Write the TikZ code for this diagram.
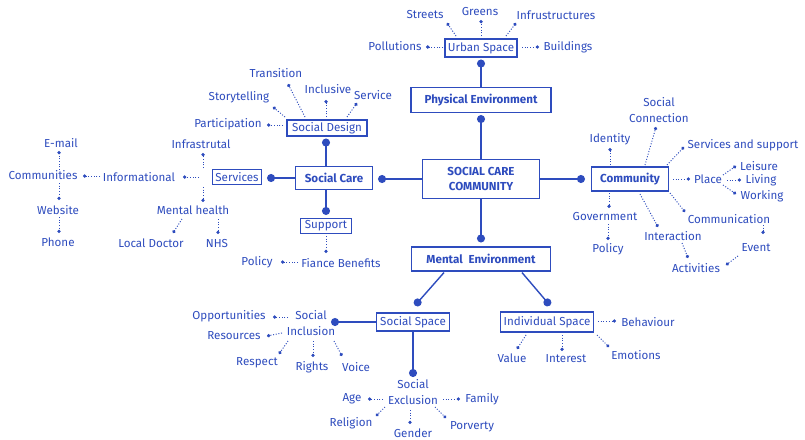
\documentclass[tikz,border=0pt]{standalone}
\usepackage{fontspec}
\setmainfont{Fira Sans}
\usetikzlibrary{arrows.meta,calc}
\definecolor{ink}{RGB}{46,76,190}
\begin{document}
\begin{tikzpicture}[x=1pt,y=-1pt,
  every node/.style={text=ink, font=\fontsize{11.6}{15.5}\selectfont, inner sep=1pt},
  leaf/.style={align=center},
  box/.style 2 args={draw=ink, line width=1.1pt, minimum width=#1, minimum height=#2, inner sep=0pt},
  heavy/.style={font=\fontsize{11.6}{15}\selectfont\bfseries},
  link/.style={draw=ink, line width=1.4pt, -{Circle[length=8pt]}},
  dl/.style={draw=ink, line width=0.95pt, dash pattern=on 1pt off 1.7pt, -{Circle[length=3.3pt]}}]
\fill[white] (0,0) rectangle (805,439);
\useasboundingbox (0,0) rectangle (805,439);

% ---- main frames ----
\node[box={117pt}{39pt}, heavy, align=center] (scc) at (481,179) {SOCIAL CARE\\COMMUNITY};
\node[box={140pt}{25pt}, heavy] (phys) at (481,100) {Physical Environment};
\node[box={72pt}{18pt}] (urban) at (481,48) {Urban Space};
\node[box={139pt}{24pt}, heavy] (ment) at (481,259) {Mental\enspace Environment};
\node[box={77pt}{23pt}, heavy] (scare) at (334,178) {Social Care};
\node[box={77pt}{24pt}, heavy] (comm) at (630,179) {Community};
\node[box={80pt}{16pt}] (sdesign) at (327,128) {Social Design};
\node[box={49pt}{15pt}] (services) at (237,177) {Services};
\node[box={51pt}{15pt}] (support) at (326,226) {Support};
\node[box={73pt}{18pt}] (sspace) at (413,322) {Social Space};
\node[box={93pt}{20pt}] (ispace) at (547,322) {Individual Space};

% ---- solid links ----
\draw[link] (phys.north) -- ($(urban.south)+(0,2)$);
\draw[link] (scc.north) -- ($(phys.south)+(0,2)$);
\draw[link] (scc.west) -- ($(scare.east|-scc.west)+(5,0)$);
\draw[link] (scc.east) -- ($(comm.west|-scc.east)+(-6,0)$);
\draw[link] (scc.south) -- ($(ment.north)+(0,-4)$);
\draw[link] ($(scare.north)+(-8,0)$) -- ($(sdesign.south)+(-1,2)$);
\draw[link] (scare.west) -- ($(services.east|-scare.west)+(5,0)$);
\draw[link] ($(scare.south)+(-8,0)$) -- ($(support.north)+(0,-3)$);
\draw[link] ($(ment.south)+(-37,1)$) -- ($(sspace.north)+(2,-7)$);
\draw[link] ($(ment.south)+(41,1)$) -- ($(ispace.north)+(3,-6)$);

% ---- urban space ----
\node (streets) at (425,15) {Streets};
\node (greens) at (480,12) {Greens};
\node (infra) at (556,15) {Infrustructures};
\node (poll) at (395,46) {Pollutions};
\node (build) at (568,47) {Buildings};
\draw[dl] ($(urban)+(-38,-1)$) -- ($(poll)+(31,1)$);
\draw[dl] ($(urban)+(41,-1)$) -- ($(build)+(-29,0)$);
\draw[dl] ($(urban)+(-25,-12)$) -- ($(streets)+(22,8)$);
\draw[dl] ($(urban)+(0,-12)$) -- ($(greens)+(1,8)$);
\draw[dl] ($(urban)+(25,-12)$) -- ($(infra)+(-40,8)$);

% ---- social design ----
\node (transition) at (276,73) {Transition};
\node (story) at (239,97) {Storytelling};
\node (incl) at (328,89) {Inclusive};
\node (service) at (373,95) {Service};
\node (part) at (228,124) {Participation};
\draw[dl] ($(sdesign)+(-22,-11)$) -- ($(transition)+(12,11)$);
\draw[dl] ($(sdesign)+(-42,-11)$) -- ($(story)+(34,10)$);
\draw[dl] ($(sdesign)+(-1,-11)$) -- ($(incl)+(-2,11)$);
\draw[dl] ($(sdesign)+(20,-11)$) -- ($(service)+(-16,8)$);
\draw[dl] ($(sdesign)+(-44,-3)$) -- ($(part)+(39,1)$);

% ---- services ----
\coordinate (svhub) at (203,177);
\node (infras) at (201,144) {Infrastrutal};
\node (info) at (139,177) {Informational};
\node (mh) at (193,210) {Mental health};
\node (comms) at (43,175) {Communities};
\node (email) at (61,143) {E-mail};
\node (web) at (58,210) {Website};
\node (phone) at (58,242) {Phone};
\node (ld) at (151,243) {Local Doctor};
\node (nhs) at (217,243) {NHS};
\draw[dl] ($(svhub)+(0,-9)$) -- ($(infras)+(2,9)$);
\draw[dl] ($(svhub)+(-4,0)$) -- ($(info)+(44,0)$);
\draw[dl] ($(svhub)+(0,10)$) -- ($(mh)+(10,-8)$);
\draw[dl] ($(info)+(-39,-1)$) -- ($(comms)+(40,1)$);
\draw[dl] ($(comms)+(16,-5)$) -- ($(email)+(-2,8)$);
\draw[dl] ($(comms)+(16,8)$) -- ($(web)+(1,-10)$);
\draw[dl] ($(web)+(1,7)$) -- ($(phone)+(1,-9)$);
\draw[dl] ($(mh)+(-11,9)$) -- ($(ld)+(22,-10)$);
\draw[dl] ($(mh)+(25,9)$) -- ($(nhs)+(1,-9)$);

% ---- support ----
\node (fb) at (341,263) {Fiance Benefits};
\node (policyA) at (257,262) {Policy};
\draw[dl] ($(support)+(0,10)$) -- ($(fb)+(-15,-10)$);
\draw[dl] ($(fb)+(-43,-1)$) -- ($(policyA)+(24,0)$);

% ---- community ----
\node[leaf] (sconn) at (659,110) {Social\\Connection};
\node (ident) at (610,139) {Identity};
\node (sas) at (743,145) {Services and support};
\node (place) at (708,179) {Place};
\node (leis) at (759,166) {Leisure};
\node (liv) at (761,180) {Living};
\node (work) at (762,196) {Working};
\node (commun) at (729,219) {Communication};
\node (gov) at (605,217) {Government};
\node (policyB) at (608,249) {Policy};
\node (inter) at (673,236) {Interaction};
\node (act) at (696,268) {Activities};
\node (event) at (756,248) {Event};
\draw[dl] ($(comm)+(15,-14)$) -- ($(sconn)+(-3,17)$);
\draw[dl] ($(comm)+(-20,-14)$) -- ($(ident)+(0,9)$);
\draw[dl] ($(comm)+(37,-14)$) -- ($(sas)+(-59,2)$);
\draw[dl] ($(comm)+(43,0)$) -- ($(place)+(-18,0)$);
\draw[dl] ($(place)+(15,-4)$) -- ($(leis)+(-23,0)$);
\draw[dl] ($(place)+(19,1)$) -- ($(liv)+(-20,0)$);
\draw[dl] ($(place)+(15,6)$) -- ($(work)+(-26,-2)$);
\draw[dl] ($(comm)+(40,14)$) -- ($(commun)+(-44,-7)$);
\draw[dl] ($(comm)+(-21,14)$) -- ($(gov)+(4,-9)$);
\draw[dl] ($(gov)+(3,7)$) -- ($(policyB)+(0,-9)$);
\draw[dl] ($(comm)+(10,15)$) -- ($(inter)+(-15,-9)$);
\draw[dl] ($(inter)+(9,7)$) -- ($(act)+(-8,-10)$);
\draw[dl] ($(commun)+(34,6)$) -- ($(event)+(7,-14)$);
\draw[dl] ($(event)+(-18,8)$) -- ($(act)+(30,-3)$);

% ---- individual space ----
\node (beh) at (648,322) {Behaviour};
\node (val) at (512,358) {Value};
\node (intr) at (566,359) {Interest};
\node (emo) at (636,355) {Emotions};
\draw[dl] ($(ispace)+(51,-1)$) -- ($(beh)+(-32,-1)$);
\draw[dl] ($(ispace)+(-21,13)$) -- ($(val)+(5,-9)$);
\draw[dl] ($(ispace)+(15,13)$) -- ($(intr)+(-4,-8)$);
\draw[dl] ($(ispace)+(50,13)$) -- ($(emo)+(-27,-8)$);

% ---- social space ----
\node[leaf] (sinc) at (311,323) {Social\\Inclusion};
\node[leaf] (sexc) at (413,392) {Social\\Exclusion};
\draw[link] (sspace.west) -- ($(sinc)+(20,-1)$);
\draw[link] (sspace.south) -- ($(sexc)+(0,-15)$);

\node (opp) at (229,316) {Opportunities};
\node (res) at (234,336) {Resources};
\node (resp) at (257,363) {Respect};
\node (rights) at (312,367) {Rights};
\node (voice) at (356,367) {Voice};
\draw[dl] ($(sinc)+(-23,-6)$) -- ($(opp)+(44,1)$);
\draw[dl] ($(sinc)+(-29,10)$) -- ($(res)+(33,0)$);
\draw[dl] ($(sinc)+(-23,18)$) -- ($(resp)+(22,-9)$);
\draw[dl] ($(sinc)+(2,18)$) -- ($(rights)+(1,-10)$);
\draw[dl] ($(sinc)+(23,18)$) -- ($(voice)+(-14,-11)$);

\node (age) at (352,399) {Age};
\node (fam) at (482,399) {Family};
\node (rel) at (351,423) {Religion};
\node (gen) at (413,433) {Gender};
\node (porv) at (472,427) {Porverty};
\draw[dl] ($(sexc)+(-30,7)$) -- ($(age)+(16,0)$);
\draw[dl] ($(sexc)+(30,7)$) -- ($(fam)+(-22,0)$);
\draw[dl] ($(sexc)+(-28,15)$) -- ($(rel)+(25,-7)$);
\draw[dl] ($(sexc)+(-3,18)$) -- ($(gen)+(-3,-9)$);
\draw[dl] ($(sexc)+(22,15)$) -- ($(porv)+(-26,-9)$);
\end{tikzpicture}
\end{document}
